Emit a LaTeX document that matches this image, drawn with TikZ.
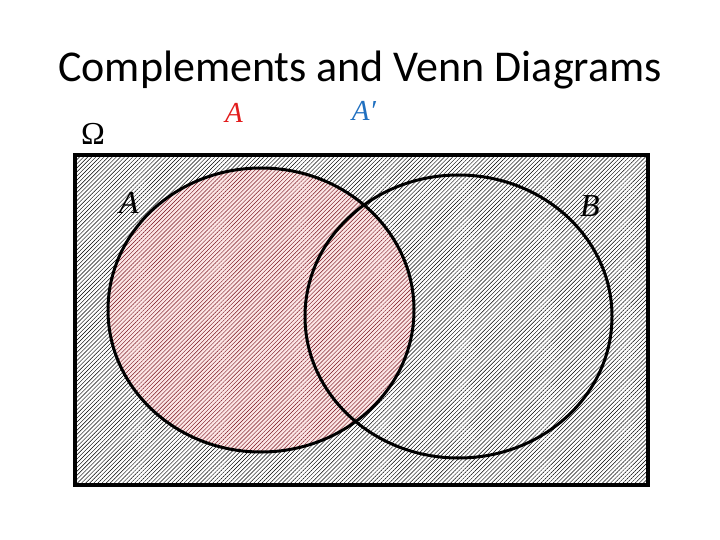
\documentclass[tikz,border=0pt]{standalone}
\usepackage{fontspec}
\setsansfont{Carlito}
\newfontfamily\labelfont{Liberation Serif}
\usetikzlibrary{patterns.meta}
\definecolor{hatchred}{RGB}{120,20,30}
\definecolor{fillpink}{RGB}{252,230,230}
\definecolor{labelred}{RGB}{226,28,28}
\definecolor{labelblue}{RGB}{32,112,192}

\begin{document}
\begin{tikzpicture}[x=1pt, y=-1pt,
    hatch/.style={pattern={Lines[angle=45, distance=2.9pt, line width=0.45pt]}, pattern color=#1},
    outline/.style={draw=black, line width=3pt},
    setlabel/.style={inner sep=0pt, font=\labelfont\itshape\fontsize{32}{32}\selectfont},
    toplabel/.style={inner sep=0pt, font=\labelfont\itshape\fontsize{29}{29}\selectfont}]
    \useasboundingbox (0,0) rectangle (720,540);
    % title
    \node[anchor=base, font=\sffamily\fontsize{44}{44}\selectfont] (title) at (360,82) {Complements and Venn Diagrams};
    % centres of the two sets
    \coordinate (ca) at (261,310);
    \coordinate (cb) at (458.5,316.5);
    % universe, then set A on top
    \path[fill=white] (75,155) rectangle (648,485);
    \path[hatch=black] (75,155) rectangle (648,485);
    \path[fill=fillpink] (ca) ellipse [x radius=153, y radius=142];
    \path[hatch=hatchred] (ca) ellipse [x radius=153, y radius=142];
    \draw[outline] (ca) ellipse [x radius=153, y radius=142];
    \draw[outline] (cb) ellipse [x radius=153.5, y radius=141.5];
    \draw[draw=black, line width=3.2pt] (75,155) rectangle (648,485);
    % labels
    \node[inner sep=0pt, font=\labelfont\fontsize{32}{32}\selectfont] (omega) at (93,134) {Ω};
    \node[toplabel, text=labelred] (keyA) at (234,113) {A};
    \node[toplabel, text=labelblue] (keyAc) at (364,111) {A′};
    \node[setlabel] (labA) at (129,203) {A};
    \node[setlabel] (labB) at (590,206) {B};
\end{tikzpicture}
\end{document}
